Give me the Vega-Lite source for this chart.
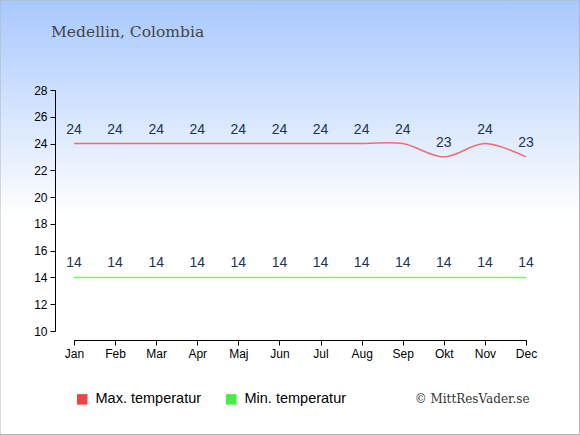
{
  "$schema": "https://vega.github.io/schema/vega-lite/v6.json",
  "width": 452,
  "height": 241,
  "autosize": {"type": "none"},
  "padding": {"left": 74, "top": 90, "right": 54, "bottom": 104},
  "background": "#ffffff",
  "title": {
    "text": "Medellin, Colombia",
    "anchor": "start",
    "frame": "group",
    "dx": -23,
    "offset": -41,
    "zindex": 2,
    "font": "DejaVu Serif",
    "fontSize": 15.5,
    "fontWeight": "normal",
    "color": "#444444"
  },
  "config": {
    "view": {"stroke": null},
    "font": "Liberation Sans"
  },
  "data": {
    "values": [
      {"month": "Jan", "type": "Max. temperatur", "temp": 24},
      {"month": "Feb", "type": "Max. temperatur", "temp": 24},
      {"month": "Mar", "type": "Max. temperatur", "temp": 24},
      {"month": "Apr", "type": "Max. temperatur", "temp": 24},
      {"month": "Maj", "type": "Max. temperatur", "temp": 24},
      {"month": "Jun", "type": "Max. temperatur", "temp": 24},
      {"month": "Jul", "type": "Max. temperatur", "temp": 24},
      {"month": "Aug", "type": "Max. temperatur", "temp": 24},
      {"month": "Sep", "type": "Max. temperatur", "temp": 24},
      {"month": "Okt", "type": "Max. temperatur", "temp": 23},
      {"month": "Nov", "type": "Max. temperatur", "temp": 24},
      {"month": "Dec", "type": "Max. temperatur", "temp": 23},
      {"month": "Jan", "type": "Min. temperatur", "temp": 14},
      {"month": "Feb", "type": "Min. temperatur", "temp": 14},
      {"month": "Mar", "type": "Min. temperatur", "temp": 14},
      {"month": "Apr", "type": "Min. temperatur", "temp": 14},
      {"month": "Maj", "type": "Min. temperatur", "temp": 14},
      {"month": "Jun", "type": "Min. temperatur", "temp": 14},
      {"month": "Jul", "type": "Min. temperatur", "temp": 14},
      {"month": "Aug", "type": "Min. temperatur", "temp": 14},
      {"month": "Sep", "type": "Min. temperatur", "temp": 14},
      {"month": "Okt", "type": "Min. temperatur", "temp": 14},
      {"month": "Nov", "type": "Min. temperatur", "temp": 14},
      {"month": "Dec", "type": "Min. temperatur", "temp": 14}
    ]
  },
  "layer": [
    {
      "mark": {
        "type": "rect",
        "clip": false,
        "fill": {
          "gradient": "linear",
          "x1": 0, "y1": 0, "x2": 0, "y2": 1,
          "stops": [
            {"offset": 0, "color": "#a8c8fe"},
            {"offset": 0.5, "color": "#ffffff"},
            {"offset": 1, "color": "#ffffff"}
          ]
        },
        "stroke": "#b4b4b4",
        "strokeWidth": 1
      },
      "encoding": {
        "x": {"value": -74},
        "x2": {"value": 505.5},
        "y": {"value": -90},
        "y2": {"value": 344.5}
      }
    },
    {
      "mark": {"type": "line", "interpolate": "cardinal", "strokeWidth": 1.5, "opacity": 0.75},
      "encoding": {
        "x": {
          "field": "month", "type": "ordinal", "sort": null,
          "scale": {"type": "point", "padding": 0},
          "axis": {
            "zindex": 2,
            "labelAngle": 0, "labelFontSize": 12, "labelColor": "#000000",
            "domainColor": "#000000", "tickColor": "#000000", "tickSize": 5,
            "offset": 9, "labelPadding": 3,
            "title": "© MittResVader.se",
            "titleFont": "DejaVu Serif", "titleFontSize": 12, "titleFontWeight": "normal",
            "titleColor": "#333333", "titleAnchor": "end", "titleAlign": "right",
            "titleX": 455, "titleY": 62, "titleBaseline": "alphabetic"
          }
        },
        "y": {
          "field": "temp", "type": "quantitative",
          "scale": {"domain": [10, 28], "nice": false, "zero": false},
          "axis": {
            "zindex": 2,
            "values": [10, 12, 14, 16, 18, 20, 22, 24, 26, 28],
            "tickCount": 20,
            "labelOverlap": false,
            "grid": false, "title": null, "offset": 19,
            "labelFontSize": 12, "labelColor": "#000000",
            "domainColor": "#000000", "tickColor": "#000000", "tickSize": 5, "labelPadding": 3
          }
        },
        "color": {
          "field": "type", "type": "nominal",
          "scale": {"domain": ["Max. temperatur", "Min. temperatur"], "range": ["#ee4444", "#44ee44"]},
          "legend": {
            "zindex": 2,
            "title": null, "orient": "none", "direction": "horizontal",
            "legendX": 1, "legendY": 302,
            "symbolType": "square", "symbolSize": 110, "symbolOpacity": 1,
            "symbolStrokeWidth": 0,
            "labelFontSize": 14.5, "labelColor": "#000000", "columnPadding": 22, "labelOffset": 6,
            "encode": {
              "symbols": {"update": {"fill": {"scale": "color", "field": "value"}, "opacity": {"value": 1}}}
            }
          }
        }
      }
    },
    {
      "mark": {"type": "text", "dy": -14, "fontSize": 14, "color": "#1d3354"},
      "encoding": {
        "x": {"field": "month", "type": "ordinal", "sort": null},
        "y": {"field": "temp", "type": "quantitative"},
        "text": {"field": "temp", "type": "quantitative"}
      }
    }
  ]
}
